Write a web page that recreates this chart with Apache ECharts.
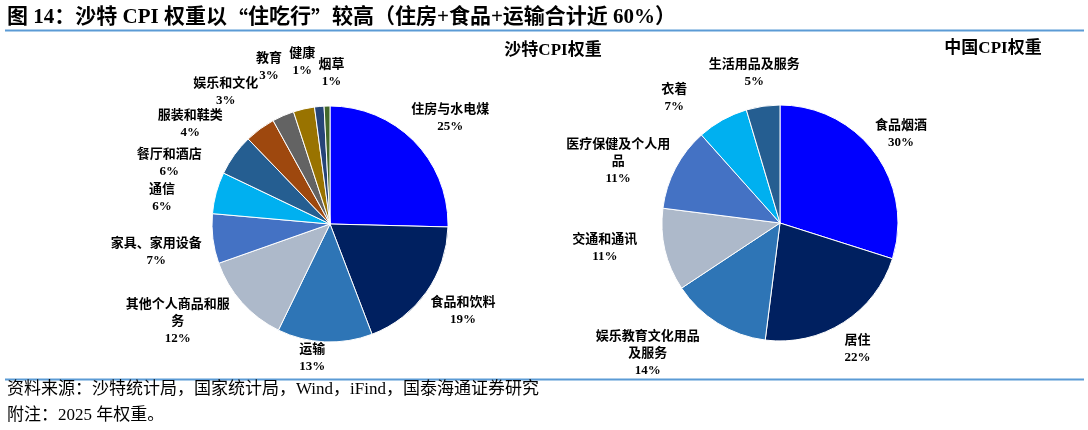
<!DOCTYPE html>
<html lang="zh-CN">
<head>
  <meta charset="UTF-8" />
  <title>沙特与中国CPI权重</title>
  <script src="https://cdn.jsdelivr.net/npm/echarts@6/dist/echarts.min.js"></script>
  <style>
    html, body { margin: 0; padding: 0; background: #fff; }
    #chart { width: 1088px; height: 430px; }
  </style>
</head>
<body>
  <div id="chart"></div>
  <script>
    // Saudi CPI weights (%), clockwise from 12 o'clock
    const saudiNames = ['住房与水电煤', '食品和饮料', '运输', '其他个人商品和服务', '家具、家用设备', '通信',
      '餐厅和酒店', '服装和鞋类', '娱乐和文化', '教育', '健康', '烟草'];
    const saudiValues = [25.4, 18.8, 13.0, 12.4, 6.8, 5.7, 5.7, 4.2, 3.0, 2.9, 1.3, 0.8];

    // China CPI weights (%)
    const chinaNames = ['食品烟酒', '居住', '娱乐教育文化用品及服务', '交通和通讯', '医疗保健及个人用品', '衣着', '生活用品及服务'];
    const chinaValues = [29.9, 22.1, 13.7, 11.3, 11.4, 7.0, 4.6];

    const FONT = "'Liberation Serif', 'Noto Sans CJK SC', serif";

    // pie geometry + where each label sits (angle shift from the slice middle, distance from centre)
    const saudiPie = {
      cx: 330, cy: 224, r: 118,
      colors: ['#0000FF', '#002060', '#2E75B6', '#ADB9CA', '#4472C4', '#00B0F0',
        '#255E91', '#9E480E', '#636363', '#997300', '#264478', '#43682B'],
      labelShift: [3, -2, 5, 9, -2, -6.5, -15, -18, -15, -8.5, -4.5, 2],
      labelDist: [160, 159, 135, 181, 176, 170, 172, 172, 168, 168, 164, 151]
    };
    const chinaPie = {
      cx: 780, cy: 223, r: 118,
      colors: ['#0000FF', '#002060', '#2E75B6', '#ADB9CA', '#4472C4', '#00B0F0', '#255E91'],
      labelShift: [0, 1, 13.5, 5, -7, -11, -1.5],
      labelDist: [150, 148, 186, 177, 173, 164, 152]
    };

    function wrapName(name) {
      return name.length > 8 ? name.slice(0, 8) + '\n' + name.slice(8) : name;
    }

    function placeLabels(pie, values) {
      const total = values.reduce((a, b) => a + b, 0);
      let acc = 0;
      const mids = values.map(v => {
        const m = (acc + v / 2) / total * 360;
        acc += v;
        return m;
      });
      return function (p) {
        const i = p.dataIndex;
        const a = (mids[i] + pie.labelShift[i]) * Math.PI / 180;
        const d = pie.labelDist[i];
        return {
          x: pie.cx + d * Math.sin(a),
          y: pie.cy - d * Math.cos(a),
          align: 'center',
          verticalAlign: 'middle'
        };
      };
    }

    function pieSeries(pie, names, values) {
      return {
        type: 'pie',
        center: [pie.cx, pie.cy],
        radius: pie.r,
        startAngle: 90,
        clockwise: true,
        avoidLabelOverlap: false,
        animation: false,
        data: names.map((n, i) => ({ name: n, value: values[i], itemStyle: { color: pie.colors[i] } })),
        itemStyle: { borderColor: '#fff', borderWidth: 1 },
        label: {
          show: true,
          position: 'outside',
          overflow: 'none',
          formatter: p => wrapName(p.name) + '\n' + Math.round(p.value) + '%',
          fontFamily: FONT,
          fontSize: 13,
          fontWeight: 'bold',
          lineHeight: 17,
          color: '#000'
        },
        labelLine: { show: false },
        labelLayout: placeLabels(pie, values),
        emphasis: { disabled: true }
      };
    }

    const chart = echarts.init(document.getElementById('chart'), null, { renderer: 'canvas' });
    chart.setOption({
      backgroundColor: '#fff',
      animation: false,
      series: [
        pieSeries(saudiPie, saudiNames, saudiValues),
        pieSeries(chinaPie, chinaNames, chinaValues)
      ],
      graphic: [
        {
          type: 'text', x: 7, y: 18,
          style: {
            text: '图 14：沙特 CPI 权重以{q|“}住吃行{q|”}较高（住房+食品+运输合计近 60%）',
            fontFamily: FONT, fontSize: 21, fontWeight: 'bold', fill: '#000', verticalAlign: 'middle',
            rich: { q: { fontFamily: "'Noto Sans CJK SC'", fontSize: 21, fontWeight: 'bold', fill: '#000', width: 21, align: 'center' } }
          }
        },
        { type: 'line', shape: { x1: 5, y1: 30.5, x2: 1084, y2: 30.5 }, style: { stroke: '#5B9BD5', lineWidth: 2 } },
        {
          type: 'text', x: 553, y: 51,
          style: { text: '沙特CPI权重', fontFamily: FONT, fontSize: 17, fontWeight: 'bold', fill: '#000', align: 'center', verticalAlign: 'middle' }
        },
        {
          type: 'text', x: 993, y: 49,
          style: { text: '中国CPI权重', fontFamily: FONT, fontSize: 17, fontWeight: 'bold', fill: '#000', align: 'center', verticalAlign: 'middle' }
        },
        { type: 'line', shape: { x1: 5, y1: 379.5, x2: 1084, y2: 379.5 }, style: { stroke: '#5B9BD5', lineWidth: 2 } },
        {
          type: 'text', x: 7, y: 390,
          style: { text: '资料来源：沙特统计局，国家统计局，Wind，iFind，国泰海通证券研究', fontFamily: FONT, fontSize: 17, fill: '#000', verticalAlign: 'middle' }
        },
        {
          type: 'text', x: 7, y: 416,
          style: { text: '附注：2025 年权重。', fontFamily: FONT, fontSize: 17, fill: '#000', verticalAlign: 'middle' }
        }
      ]
    });
  </script>
</body>
</html>
